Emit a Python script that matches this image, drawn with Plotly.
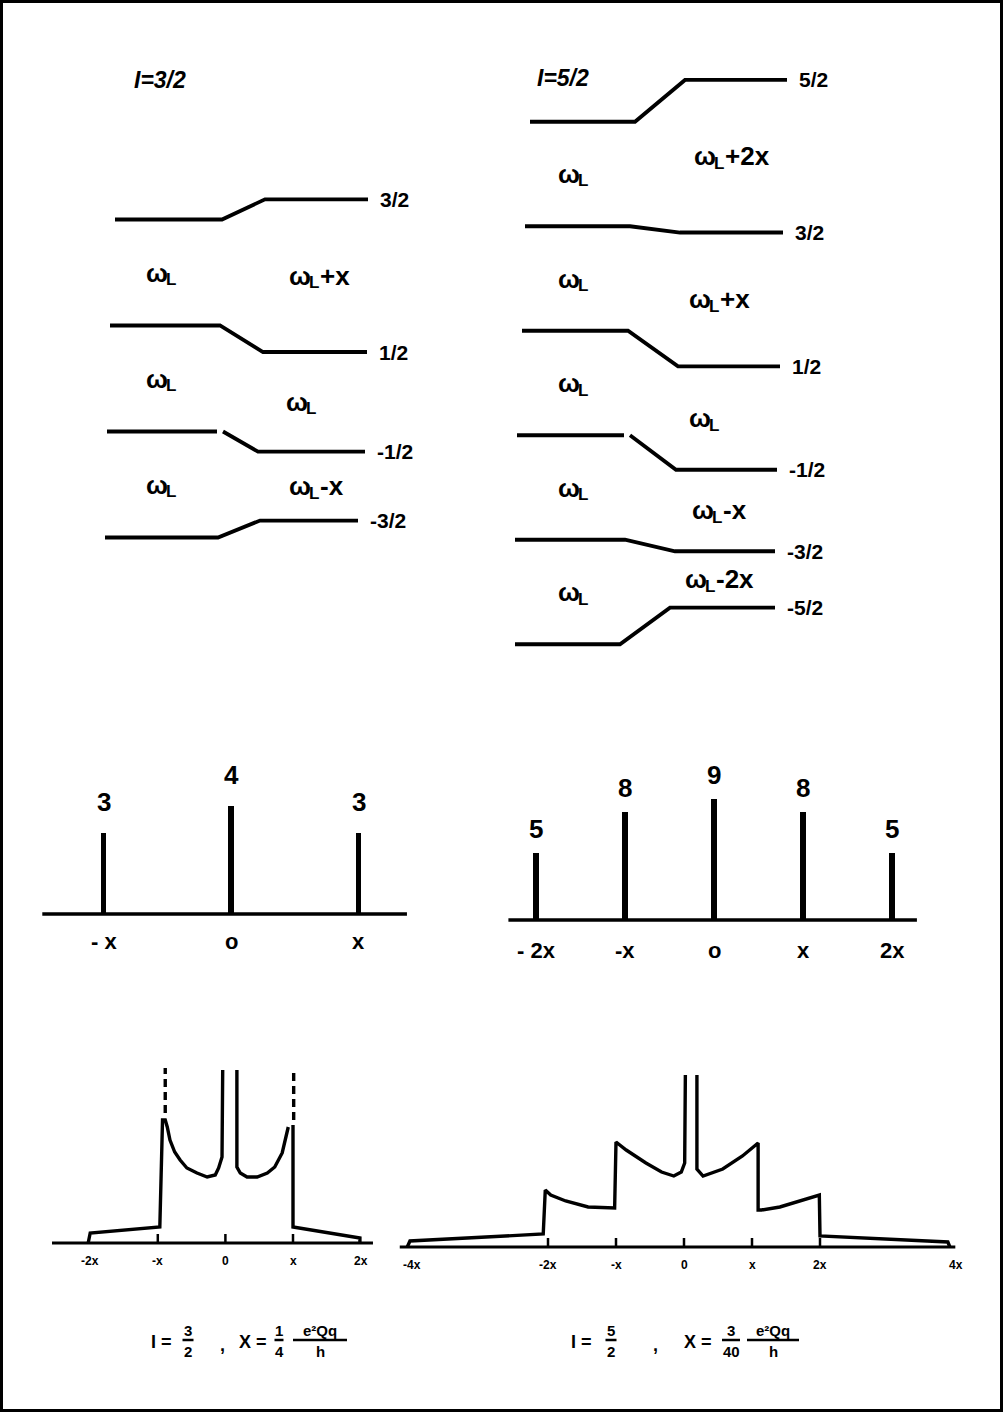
import plotly.graph_objects as go

W, H = 1003, 1412

# ======================= DATA =======================
# --- energy levels, I = 3/2 (units of the Zeeman level spacing) ---
m_labels_32 = ["3/2", "1/2", "-1/2", "-3/2"]
E_zeeman_32 = [1.5, 0.5, -0.5, -1.5]
E_quad_32 = [1.69, 0.25, -0.69, -1.34]
freq_zeeman_32 = ["ω_L", "ω_L", "ω_L"]
freq_quad_32 = ["ω_L+x", "ω_L", "ω_L-x"]

# --- energy levels, I = 5/2 ---
m_labels_52 = ["5/2", "3/2", "1/2", "-1/2", "-3/2", "-5/2"]
E_zeeman_52 = [2.5, 1.5, 0.5, -0.5, -1.5, -2.5]
E_quad_52 = [2.90, 1.44, 0.16, -0.83, -1.61, -2.15]
freq_zeeman_52 = ["ω_L", "ω_L", "ω_L", "ω_L", "ω_L"]
freq_quad_52 = ["ω_L+2x", "ω_L+x", "ω_L", "ω_L-x", "ω_L-2x"]

# --- stick spectra (relative intensities) ---
stick_pos_32 = [-1, 0, 1]
stick_int_32 = [3, 4, 3]
stick_tick_32 = ["- x", "o", "x"]
stick_pos_52 = [-2, -1, 0, 1, 2]
stick_int_52 = [5, 8, 9, 8, 5]
stick_tick_52 = ["- 2x", "-x", "o", "x", "2x"]

# --- powder patterns (frequency in units of x, arbitrary intensity) ---
powder_32_x = [-2.03, -2.00, -0.97, -0.93, -0.89, -0.86, -0.82, -0.75, -0.67, -0.57, -0.42,
               -0.27, -0.15, -0.10, -0.05, -0.04, None,
               0.17, 0.17, 0.22, 0.32, 0.47, 0.62, 0.73, 0.84, 0.93, None,
               1.00, 1.00, 1.99, 1.99]
powder_32_y = [0.0, 1.0, 1.6, 12.3, 12.3, 11.6, 10.3, 9.1, 8.3, 7.5, 7.0,
               6.6, 6.8, 7.5, 8.6, 17.3, None,
               17.3, 7.6, 7.0, 6.6, 6.6, 7.0, 7.6, 9.0, 11.6, None,
               11.8, 1.6, 0.5, 0.0]
powder_32_dash_x = [-0.89, 1.01]
powder_32_dash_lo = [13.0, 12.3]
powder_32_dash_hi = [17.5, 17.5]
powder_32_ticks = [-2, -1, 0, 1, 2]
powder_32_ticktext = ["-2x", "-x", "0", "x", "2x"]
powder_32_tickmarks = [-1, 0, 1]

powder_52_x = [-4.07, -4.03, -2.07, -2.04, -1.96, -1.74, -1.41, -1.08, -1.02,
               -1.00, -0.85, -0.56, -0.33, -0.15, -0.04, 0.01, 0.02, None,
               0.19, 0.19, 0.28, 0.57, 0.86, 1.09, 1.09, 1.14, 1.41, 1.67, 1.94,
               1.99, 2.00, 3.88, 3.91]
powder_52_y = [0.0, 0.6, 1.3, 5.7, 5.2, 4.6, 4.0, 3.9, 3.9,
               10.5, 9.7, 8.4, 7.5, 7.1, 7.5, 8.4, 17.2, None,
               17.2, 7.8, 7.1, 7.8, 9.1, 10.4, 3.7, 3.7, 4.0, 4.5, 5.1,
               5.2, 1.1, 0.5, 0.0]
powder_52_ticks = [-4, -2, -1, 0, 1, 2, 4]
powder_52_ticktext = ["-4x", "-2x", "-x", "0", "x", "2x", "4x"]
powder_52_tickmarks = [-2, -1, 0, 1, 2]

# ======================= LAYOUT HELPERS =======================
FONT = "Liberation Sans"
INK = "black"


def xax(p0, p1, a, b):
    return dict(domain=[p0 / W, p1 / W], range=[(p0 - a) / b, (p1 - a) / b],
                visible=False, fixedrange=True)


def yax(ptop, pbot, a, b, anchor):
    return dict(domain=[1 - pbot / H, 1 - ptop / H], range=[(a - pbot) / b, (a - ptop) / b],
                visible=False, fixedrange=True, anchor=anchor)


fig = go.Figure()
annotations = []
shapes = []


def txt(text, x, y, xref, yref, size, xanchor="center", yanchor="middle", xshift=0, yshift=0,
        italic=False):
    annotations.append(dict(text=text, x=x, y=y, xref=xref, yref=yref, showarrow=False,
                            borderpad=0,
                            font=dict(family=FONT, size=size, color=INK, weight="bold",
                                      style="italic" if italic else "normal"),
                            xanchor=xanchor, yanchor=yanchor, xshift=xshift, yshift=yshift))


def ptxt(text, px, py, size, xanchor="center", italic=False):
    txt(text, px / W, 1 - py / H, "paper", "paper", size, xanchor=xanchor, italic=italic)


# approximate advance widths (em) of Liberation Sans Bold
ADV = {"ω": 0.78, "L": 0.611, "+": 0.584, "-": 0.333, "x": 0.556, "2": 0.556}


def omega_label(label, x, y, xa, ya, size=26):
    """Draw 'ω_L<suffix>' with a lowered, smaller L (no svg sub-tags)."""
    suffix = label[3:]
    sub = round(size * 0.66)
    w_om = ADV["ω"] * size
    w_l = ADV["L"] * sub
    w_s = sum(ADV.get(c, 0.55) for c in suffix) * size
    x0 = -(w_om + w_l + w_s) / 2
    txt("ω", x, y, xa, ya, size, xanchor="left", xshift=x0)
    txt("L", x, y, xa, ya, sub, xanchor="left", xshift=x0 + w_om, yshift=-7)
    if suffix:
        txt(suffix, x, y, xa, ya, size, xanchor="left", xshift=x0 + w_om + w_l + 0.5)


# ---------- energy-level panels ----------
GEOM_32 = [(115, 222, 265, 368), (110, 220, 263, 367), (107, 217, 258, 365), (105, 218, 260, 358)]
GAP_32 = [0, 0, 1, 0]
GEOM_52 = [(530, 635, 685, 787), (525, 630, 680, 783), (522, 628, 678, 780),
           (517, 624, 676, 777), (515, 625, 675, 775), (515, 620, 670, 775)]
GAP_52 = [0, 0, 0, 1, 0, 0]


def level_panel(xa, ya, E_left, E_right, labels, geom, gaps, lcol_x, rcol_x, f_left, f_right):
    for i, (el, er) in enumerate(zip(E_left, E_right)):
        x0, x1, x2, x3 = geom[i]
        if gaps[i]:
            xs, ys = [x0, x1, None, x1 + 6, x2, x3], [el, el, None, el, er, er]
        else:
            xs, ys = [x0, x1, x2, x3], [el, el, er, er]
        fig.add_trace(go.Scatter(x=xs, y=ys, mode="lines", line=dict(color=INK, width=3.8),
                                 xaxis=xa, yaxis=ya, hoverinfo="skip"))
        txt(labels[i], x3 + 11, er, xa, ya, 21, xanchor="left")
    for i in range(len(E_left) - 1):
        omega_label(f_left[i], lcol_x, (E_left[i] + E_left[i + 1]) / 2, xa, ya)
        omega_label(f_right[i], rcol_x[i], (E_right[i] + E_right[i + 1]) / 2, xa, ya)


level_panel("x", "y", E_zeeman_32, E_quad_32, m_labels_32, GEOM_32, GAP_32,
            160, [318, 300, 315], freq_zeeman_32, freq_quad_32)
level_panel("x2", "y2", E_zeeman_52, E_quad_52, m_labels_52, GEOM_52, GAP_52,
            572, [730, 718, 703, 718, 718], freq_zeeman_52, freq_quad_52)
ptxt("I=3/2", 160, 80, 23, italic=True)
ptxt("I=5/2", 563, 78, 23, italic=True)

# ---------- stick spectra ----------
def stick_panel(xa, ya, pos, inten, ticks, base, width, lab_shift, tick_shift):
    fig.add_trace(go.Scatter(x=base, y=[0, 0], mode="lines", line=dict(color=INK, width=3.5),
                             xaxis=xa, yaxis=ya, hoverinfo="skip"))
    fig.add_trace(go.Bar(x=pos, y=inten, width=width, marker=dict(color=INK, line=dict(width=0)),
                         xaxis=xa, yaxis=ya, hoverinfo="skip"))
    for p, v, t in zip(pos, inten, ticks):
        txt(str(v), p, v, xa, ya, 26, yshift=lab_shift)
        txt(t, p, 0, xa, ya, 22, yshift=tick_shift)


stick_panel("x3", "y3", stick_pos_32, stick_int_32, stick_tick_32, [-1.48, 1.38], 0.042, 31, -27)
stick_panel("x4", "y4", stick_pos_52, stick_int_52, stick_tick_52, [-2.31, 2.28], 0.06, 24, -30)

# ---------- powder patterns ----------
def powder_panel(xa, ya, px, py, base, ticks, ticktext, marks):
    fig.add_trace(go.Scatter(x=base, y=[0, 0], mode="lines", line=dict(color=INK, width=3),
                             xaxis=xa, yaxis=ya, hoverinfo="skip"))
    mx, my = [], []
    for m in marks:
        mx += [m, m, None]
        my += [0, 0.9, None]
    fig.add_trace(go.Scatter(x=mx, y=my, mode="lines", line=dict(color=INK, width=2.5),
                             xaxis=xa, yaxis=ya, hoverinfo="skip"))
    fig.add_trace(go.Scatter(x=px, y=py, mode="lines", line=dict(color=INK, width=3.4),
                             connectgaps=False, xaxis=xa, yaxis=ya, hoverinfo="skip"))
    for t, tt in zip(ticks, ticktext):
        txt(tt, t, 0, xa, ya, 12, yshift=-18)


powder_panel("x5", "y5", powder_32_x, powder_32_y, [-2.565, 2.183],
             powder_32_ticks, powder_32_ticktext, powder_32_tickmarks)
dx, dy = [], []
for x0, lo, hi in zip(powder_32_dash_x, powder_32_dash_lo, powder_32_dash_hi):
    dx += [x0, x0, None]
    dy += [lo, hi, None]
fig.add_trace(go.Scatter(x=dx, y=dy, mode="lines", line=dict(color=INK, width=3.4, dash="8px,5px"),
                         xaxis="x5", yaxis="y5", hoverinfo="skip"))

powder_panel("x6", "y6", powder_52_x, powder_52_y, [-4.18, 3.99],
             powder_52_ticks, powder_52_ticktext, powder_52_tickmarks)

# ---------- formulas under the powder patterns ----------
def frac(num, den, cx, cy, size, barw):
    ptxt(num, cx, cy - 10, size)
    ptxt(den, cx, cy + 11, size)
    shapes.append(dict(type="line", xref="paper", yref="paper",
                       x0=(cx - barw / 2) / W, x1=(cx + barw / 2) / W,
                       y0=1 - cy / H, y1=1 - cy / H, line=dict(color=INK, width=2.5)))


FY = 1340
ptxt("I =", 150, FY + 2, 18, xanchor="left")
frac("3", "2", 188, FY, 15, 11)
ptxt(",", 222, FY + 5, 18)
ptxt("X =", 238, FY + 2, 18, xanchor="left")
frac("1", "4", 279, FY, 15, 9)
frac("e²Qq", "h", 320, FY, 15, 54)

ptxt("I =", 570, FY + 2, 18, xanchor="left")
frac("5", "2", 611, FY, 15, 11)
ptxt(",", 655, FY + 5, 18)
ptxt("X =", 683, FY + 2, 18, xanchor="left")
frac("3", "40", 731, FY, 15, 18)
frac("e²Qq", "h", 773, FY, 15, 52)

# ---------- page frame ----------
shapes.append(dict(type="rect", xref="paper", yref="paper", x0=1.5 / W, x1=1 - 1.5 / W,
                   y0=1.5 / H, y1=1 - 1.5 / H, line=dict(color=INK, width=3)))

fig.update_layout(
    width=W, height=H, margin=dict(l=0, r=0, t=0, b=0),
    paper_bgcolor="white", plot_bgcolor="rgba(0,0,0,0)", showlegend=False,
    bargap=0,
    xaxis=dict(domain=[0, 1], range=[0, W], visible=False, fixedrange=True),
    yaxis=yax(30, 580, 378.5, 106, "x"),
    xaxis2=dict(domain=[0, 1], range=[0, W], visible=False, fixedrange=True, anchor="y2"),
    yaxis2=yax(30, 690, 383, 104.5, "x2"),
    xaxis3=dict(xax(20, 450, 231, 127.5), anchor="y3"),
    yaxis3=yax(720, 990, 914, 27, "x3"),
    xaxis4=dict(xax(470, 980, 714, 89), anchor="y4"),
    yaxis4=yax(720, 990, 920, 13.5, "x4"),
    xaxis5=dict(xax(20, 395, 225.4, 67.6), anchor="y5"),
    yaxis5=yax(1000, 1300, 1243, 10, "x5"),
    xaxis6=dict(xax(395, 990, 684, 68), anchor="y6"),
    yaxis6=yax(1000, 1300, 1247, 10, "x6"),
    annotations=annotations, shapes=shapes,
)

fig.write_html("out.html")
